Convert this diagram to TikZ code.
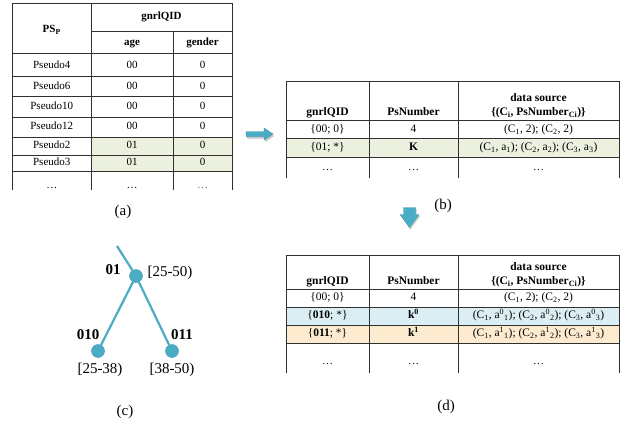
\documentclass[tikz,border=0pt]{standalone}
\usepackage{fontspec}
\setmainfont{Liberation Serif}
\definecolor{tline}{HTML}{303030}
\definecolor{greenrow}{HTML}{EBF1DE}
\definecolor{bluerow}{HTML}{DBEEF3}
\definecolor{orangerow}{HTML}{FCEBCF}
\definecolor{teal}{HTML}{4BACC6}
\definecolor{tealdark}{HTML}{3A95AE}
\tikzset{
  tl/.style={draw=tline, line width=0.9pt},
  cella/.style={inner sep=0pt, font=\fontsize{11}{13}\selectfont, text height=1.5ex, text depth=0.25ex},
  cellb/.style={inner sep=0pt, font=\fontsize{11.5}{13.5}\selectfont, text height=1.5ex, text depth=0.25ex},
  hdra/.style={cella, font=\fontsize{11}{13}\selectfont\bfseries},
  hdrb/.style={cellb, font=\fontsize{11.5}{13.5}\selectfont\bfseries},
  dots/.style={inner sep=0pt, anchor=base, font=\fontsize{11}{13}\selectfont},
  caption/.style={inner sep=0pt, font=\fontsize{15}{18}\selectfont},
  treelabel/.style={inner sep=0pt, font=\fontsize{15}{18}\selectfont},
  treebold/.style={treelabel, font=\fontsize{15}{18}\selectfont\bfseries},
  treenode/.style={circle, fill=teal, draw=tealdark, line width=0.4pt, minimum size=13pt, inner sep=0pt},
  treeedge/.style={draw=teal, line width=2.2pt},
  blockarrow/.style={fill=teal, draw=tealdark, line width=0.3pt},
  arrowshadow/.style={fill=black!22},
}
\begin{document}
\begin{tikzpicture}[x=1pt,y=-1pt]
\useasboundingbox[fill=white] (0,0) rectangle (627,423);

% ---------------- Table (a) ----------------
\fill[greenrow] (91,137) rectangle (232,171);
\draw[tl] (12.5,3) -- (232,3);
\draw[tl] (91,31) -- (232,31);
\foreach \yy in {53,76,96.5,117,137,155,171} {\draw[tl] (12.5,\yy) -- (232,\yy);}
\draw[tl] (12.5,3) -- (12.5,190);
\draw[tl] (91,3) -- (91,190);
\draw[tl] (173,31) -- (173,190);
\draw[tl] (232,3) -- (232,190);

\node[hdra] (aPS) at (51.75,30) {PS\textsubscript{P}};
\node[hdra] (aG) at (161.5,17) {gnrlQID};
\node[hdra] (aAge) at (132,43) {age};
\node[hdra] (aGen) at (202.5,43) {gender};

\node[cella] (a1a) at (51.75,65.5) {Pseudo4};  \node[cella] (a1b) at (132,65.5) {00}; \node[cella] (a1c) at (202.5,65.5) {0};
\node[cella] (a2a) at (51.75,86.5) {Pseudo6};  \node[cella] (a2b) at (132,86.5) {00}; \node[cella] (a2c) at (202.5,86.5) {0};
\node[cella] (a3a) at (51.75,107) {Pseudo10}; \node[cella] (a3b) at (132,107) {00}; \node[cella] (a3c) at (202.5,107) {0};
\node[cella] (a4a) at (51.75,127) {Pseudo12}; \node[cella] (a4b) at (132,127) {00}; \node[cella] (a4c) at (202.5,127) {0};
\node[cella] (a5a) at (51.75,146) {Pseudo2};  \node[cella] (a5b) at (132,146) {01}; \node[cella] (a5c) at (202.5,146) {0};
\node[cella] (a6a) at (51.75,163) {Pseudo3};  \node[cella] (a6b) at (132,163) {01}; \node[cella] (a6c) at (202.5,163) {0};
\node[dots] (a7a) at (51.75,188) {\ldots};
\node[dots] (a7b) at (132,188) {\ldots};
\node[dots, text=teal!70!black] (a7c) at (202.5,188) {\ldots};

\node[caption] (capa) at (123,212) {(a)};

% ---------------- right block arrow ----------------
\fill[arrowshadow] (247,133.5) -- (265,133.5) -- (265,130) -- (274,136) -- (265,142) -- (265,138.5) -- (247,138.5) -- cycle;
\draw[blockarrow] (246,131.5) -- (264,131.5) -- (264,128) -- (273,134) -- (264,140) -- (264,136.5) -- (246,136.5) -- cycle;

% ---------------- Table (b) ----------------
\fill[greenrow] (286,138) rectangle (619,157);
\foreach \yy in {81,120,138,157} {\draw[tl] (286,\yy) -- (619,\yy);}
\foreach \xx in {286,369,458,619} {\draw[tl] (\xx,81) -- (\xx,178);}

\node[hdrb] (bG) at (327.5,112.5) {gnrlQID};
\node[hdrb] (bP) at (413.5,112.5) {PsNumber};
\node[hdrb] (bD1) at (538.5,99) {data source};
\node[hdrb] (bD2) at (538.5,112.5) {\{(C\textsubscript{i}, PsNumber\textsubscript{Ci})\}};

\node[cellb] (b1a) at (327.5,129.5) {\{00; 0\}};
\node[cellb] (b1b) at (413.5,129.5) {4};
\node[cellb] (b1c) at (538.5,129.5) {(C\textsubscript{1}, 2); (C\textsubscript{2}, 2)};
\node[cellb] (b2a) at (327.5,148) {\{01; *\}};
\node[cellb] (b2b) at (413.5,148) {\textbf{K}};
\node[cellb] (b2c) at (538.5,148) {(C\textsubscript{1}, a\textsubscript{1}); (C\textsubscript{2}, a\textsubscript{2}); (C\textsubscript{3}, a\textsubscript{3})};
\node[dots] (b3a) at (327.5,170) {\ldots};
\node[dots] (b3b) at (413.5,170) {\ldots};
\node[dots] (b3c) at (538.5,170) {\ldots};

\node[caption] (capb) at (443,206) {(b)};

% ---------------- down block arrow ----------------
\fill[arrowshadow] (404.5,209) -- (416.5,209) -- (416.5,216) -- (420,216) -- (410.5,229.5) -- (401,216) -- (404.5,216) -- cycle;
\draw[blockarrow] (403.5,207.5) -- (415.5,207.5) -- (415.5,214.5) -- (419,214.5) -- (409.5,227.5) -- (400,214.5) -- (403.5,214.5) -- cycle;

% ---------------- Table (d) ----------------
\fill[bluerow] (286,307) rectangle (619,325);
\fill[orangerow] (286,325) rectangle (619,343);
\foreach \yy in {255,289,307,325,343} {\draw[tl] (286,\yy) -- (619,\yy);}
\foreach \xx in {286,369,458,619} {\draw[tl] (\xx,255) -- (\xx,373);}

\node[hdrb] (dG) at (327.5,282) {gnrlQID};
\node[hdrb] (dP) at (413.5,282) {PsNumber};
\node[hdrb] (dD1) at (538.5,268) {data source};
\node[hdrb] (dD2) at (538.5,281.5) {\{(C\textsubscript{i}, PsNumber\textsubscript{Ci})\}};

\node[cellb] (d1a) at (327.5,298) {\{00; 0\}};
\node[cellb] (d1b) at (413.5,298) {4};
\node[cellb] (d1c) at (538.5,298) {(C\textsubscript{1}, 2); (C\textsubscript{2}, 2)};
\node[cellb] (d2a) at (327.5,316) {\{\textbf{010}; *\}};
\node[cellb] (d2b) at (413.5,316) {\textbf{k\textsuperscript{0}}};
\node[cellb] (d2c) at (538.5,316) {(C\textsubscript{1}, a\textsuperscript{0}\textsubscript{1}); (C\textsubscript{2}, a\textsuperscript{0}\textsubscript{2}); (C\textsubscript{3}, a\textsuperscript{0}\textsubscript{3})};
\node[cellb] (d3a) at (327.5,334) {\{\textbf{011}; *\}};
\node[cellb] (d3b) at (413.5,334) {\textbf{k\textsuperscript{1}}};
\node[cellb] (d3c) at (538.5,334) {(C\textsubscript{1}, a\textsuperscript{1}\textsubscript{1}); (C\textsubscript{2}, a\textsuperscript{1}\textsubscript{2}); (C\textsubscript{3}, a\textsuperscript{1}\textsubscript{3})};
\node[dots] (d4a) at (327.5,364) {\ldots};
\node[dots] (d4b) at (413.5,364) {\ldots};
\node[dots] (d4c) at (538.5,364) {\ldots};

\node[caption] (capd) at (446,407) {(d)};

% ---------------- Tree (c) ----------------
\coordinate (ttop) at (117,246);
\node[treenode] (n01) at (136,276) {};
\node[treenode] (n010) at (98,351) {};
\node[treenode] (n011) at (172,351) {};
\draw[treeedge] (ttop) -- (n01);
\draw[treeedge] (n01) -- (n010);
\draw[treeedge] (n01) -- (n011);

\node[treebold] (l01) at (113,270) {01};
\node[treelabel] (r01) at (170,273) {[25-50)};
\node[treebold] (l010) at (88,335) {010};
\node[treebold] (l011) at (182,335) {011};
\node[treelabel] (r010) at (100,370) {[25-38)};
\node[treelabel] (r011) at (172,370) {[38-50)};

\node[caption] (capc) at (125,412) {(c)};
\end{tikzpicture}
\end{document}
